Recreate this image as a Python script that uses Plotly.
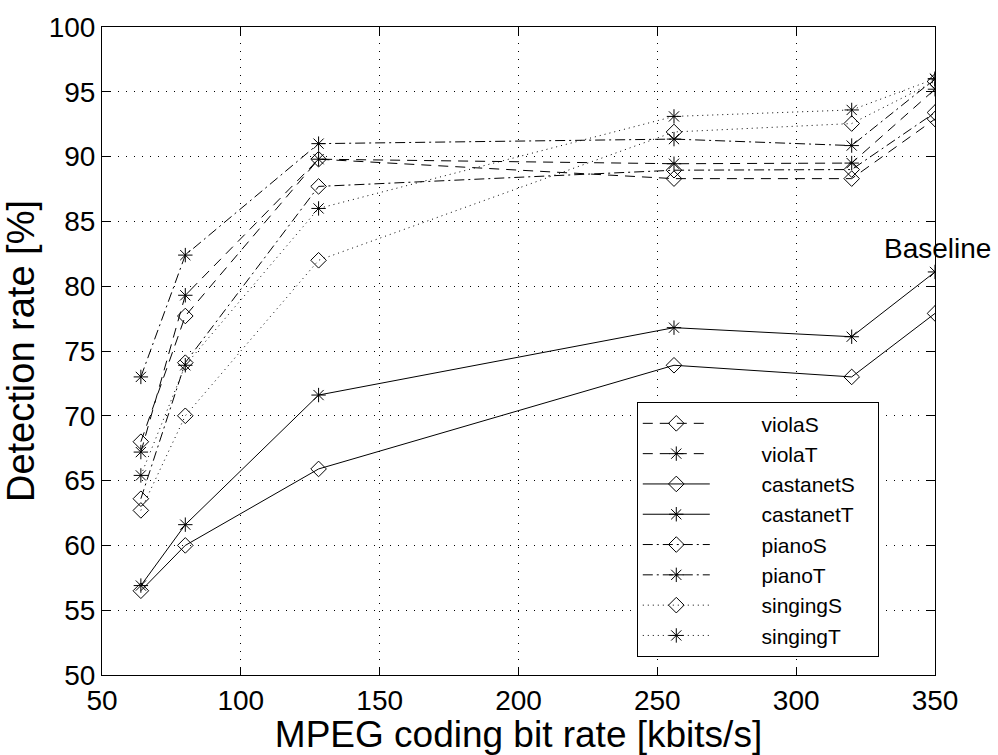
import plotly.graph_objects as go

bitrate = [64, 80, 128, 256, 320, 350]
violaS = [68.0, 77.7, 89.8, 88.3, 88.3, 92.9]
violaT = [67.2, 79.3, 89.8, 89.45, 89.5, 95.2]
castanetS = [56.5, 60.0, 65.9, 73.9, 73.0, 77.9]
castanetT = [56.9, 61.6, 71.6, 76.8, 76.1, 81.1]
pianoS = [63.6, 74.1, 87.7, 88.95, 89.0, 93.4]
pianoT = [73.0, 82.4, 91.0, 91.35, 90.85, 96.0]
singingS = [62.7, 70.0, 82.0, 91.9, 92.55, 95.8]
singingT = [65.4, 73.9, 86.0, 93.1, 93.6, 96.0]

series = [
    ("violaS", violaS, "diamond-open", "10px,7px"),
    ("violaT", violaT, "asterisk-open", "10px,7px"),
    ("castanetS", castanetS, "diamond-open", "solid"),
    ("castanetT", castanetT, "asterisk-open", "solid"),
    ("pianoS", pianoS, "diamond-open", "10px,4px,2px,4px"),
    ("pianoT", pianoT, "asterisk-open", "10px,4px,2px,4px"),
    ("singingS", singingS, "diamond-open", "1px,4px"),
    ("singingT", singingT, "asterisk-open", "1px,4px"),
]

fig = go.Figure()
for name, vals, sym, dash in series:
    fig.add_trace(go.Scatter(
        x=bitrate, y=vals, name="\u00a0" * 8 + name + "\u00a0" * 3, mode="lines+markers",
        line=dict(color="black", width=1, dash=dash),
        marker=dict(symbol=sym, size=12, color="black", line=dict(width=1, color="black")),
    ))

fig.add_annotation(x=331, y=82.9, text="Baseline", showarrow=False,
                   xanchor="left", yanchor="middle",
                   font=dict(family="Liberation Sans, Arial", size=28, color="black"))

axis_common = dict(
    showline=True, linecolor="black", linewidth=1, mirror="ticks",
    ticks="inside", ticklen=8, tickcolor="black",
    showgrid=True, gridcolor="black", gridwidth=1, griddash="1px,7px",
    zeroline=False,
    tickfont=dict(family="Liberation Sans, Arial", size=28, color="black"),
)

fig.update_xaxes(range=[50, 350], tickvals=[50, 100, 150, 200, 250, 300, 350],
                 title=dict(text="MPEG coding bit rate [kbits/s]",
                            font=dict(family="Liberation Sans, Arial", size=37, color="black"),
                            standoff=2),
                 **axis_common)
fig.update_yaxes(range=[50, 100], tickvals=list(range(50, 101, 5)),
                 title=dict(text="Detection rate [%]",
                            font=dict(family="Liberation Sans, Arial", size=38, color="black"),
                            standoff=4),
                 **axis_common)

fig.update_layout(
    width=998, height=755,
    margin=dict(l=102, r=63, t=18, b=79),
    paper_bgcolor="white", plot_bgcolor="white",
    showlegend=True,
    legend=dict(x=0.642, y=0.4210, xanchor="left", yanchor="top",
                bgcolor="white", bordercolor="black", borderwidth=1,
                font=dict(family="Liberation Sans, Arial", size=21, color="black"),
                itemwidth=67, tracegroupgap=0),
)

fig.write_html("out.html")
